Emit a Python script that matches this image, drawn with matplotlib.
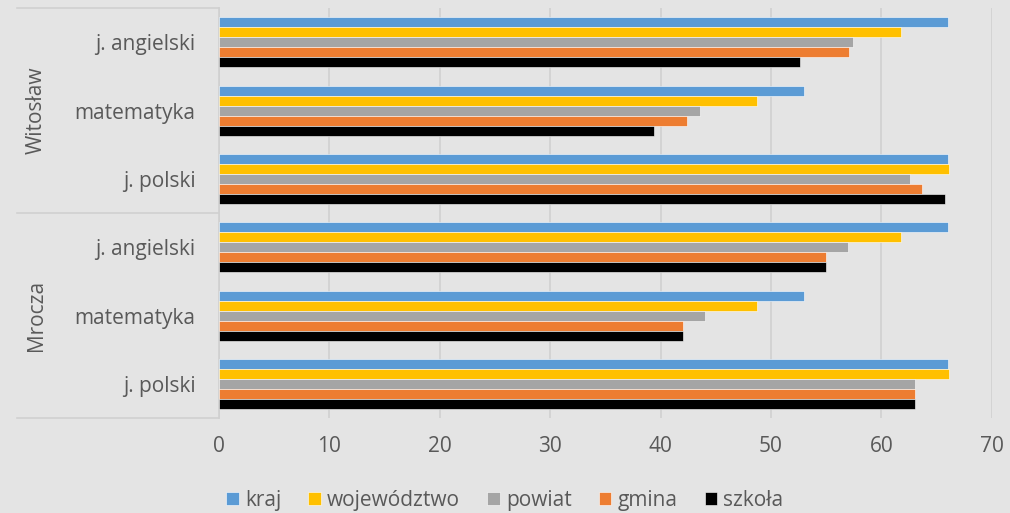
import numpy as np
import matplotlib.pyplot as plt

plt.rcParams['font.family'] = ['Open Sans', 'DejaVu Sans']

# categories bottom -> top
groups = ["Mrocza", "Witosław"]
subjects = ["j. polski", "matematyka", "j. angielski"]
series = ["kraj", "województwo", "powiat", "gmina", "szkoła"]
colors = ["#5B9BD5", "#FFC000", "#A5A5A5", "#ED7D31", "#000000"]

kraj = [66.0, 53.0, 66.0, 66.0, 53.0, 66.0]
wojewodztwo = [66.1, 48.7, 61.8, 66.1, 48.7, 61.8]
powiat = [63.0, 44.0, 57.0, 62.6, 43.6, 57.4]
gmina = [63.0, 42.0, 55.0, 63.7, 42.4, 57.1]
szkola = [63.0, 42.0, 55.0, 65.8, 39.4, 52.6]
values = [kraj, wojewodztwo, powiat, gmina, szkola]

bg = "#E4E4E4"
txt = "#595959"
line = "#D0D0D0"

fig = plt.figure(figsize=(10.1, 5.13), dpi=100, facecolor=bg)
ax = fig.add_axes([0.2168, 0.185, 0.7652, 0.799], facecolor=bg)

y = np.arange(len(subjects) * len(groups))
h = 0.146
for k, (name, vals) in enumerate(zip(series, values)):
    ax.barh(y + (2 - k) * h, vals, height=h, color=colors[k], label=name,
            edgecolor="white", linewidth=0.4, zorder=3)

ax.set_xlim(0, 70)
ax.set_ylim(-0.5, 5.5)
ax.set_xticks(range(0, 71, 10))
ax.grid(axis="x", color=line, linewidth=1.2, zorder=0)
ax.set_yticks(y)
ax.set_yticklabels(subjects * len(groups))
ax.tick_params(axis="both", length=0, labelsize=15, labelcolor=txt)
ax.tick_params(axis="y", pad=17)
ax.tick_params(axis="x", pad=13)
for s in ["top", "right", "bottom"]:
    ax.spines[s].set_visible(False)
ax.spines["left"].set_color(line)
ax.spines["left"].set_linewidth(1.2)

# multi-level category axis
x0 = -(219 - 17) / (992 - 219)
for yy in [0.0, 0.5, 1.0]:
    ax.plot([x0, 0], [yy, yy], transform=ax.transAxes, color=line,
            linewidth=1.2, clip_on=False)
gx = -(219 - 36) / (992 - 219)
for i, g in enumerate(groups):
    ax.text(gx, 0.25 + 0.5 * i, g, transform=ax.transAxes, rotation=90,
            ha="center", va="center", fontsize=15, color=txt)

fig.legend(loc="lower center", bbox_to_anchor=(0.5, -0.032), ncol=5,
           frameon=False, fontsize=15, labelcolor=txt, handlelength=0.6,
           handleheight=0.6, handletextpad=0.3, columnspacing=1.3)

fig.savefig("out.png", facecolor=bg)
